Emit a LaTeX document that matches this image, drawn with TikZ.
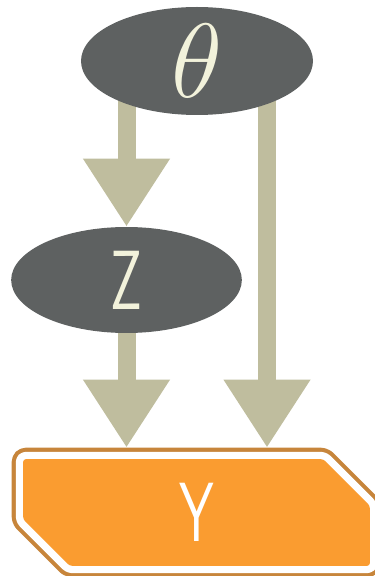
\documentclass[tikz,border=0pt]{standalone}
\usetikzlibrary{shapes.geometric,shapes.misc,arrows.meta,backgrounds}

\newcommand{\narrow}[1]{\scalebox{0.66}[1]{#1}}

\begin{document}
\begin{tikzpicture}[x=0.75pt,y=0.75pt,
    var/.style={ellipse,fill=kGrey,text=kCream,inner sep=0pt,
                minimum width=174pt,minimum height=81pt,
                font=\fontsize{63}{70}\selectfont\sffamily},
    obs/.style={chamfered rectangle,
                chamfered rectangle corners={north east,south west},
                chamfered rectangle sep=24.75pt,
                fill=kOrange,text=white,inner sep=0pt,outer sep=8.6pt,
                minimum width=260pt,minimum height=80pt,rounded corners=2pt,
                preaction={draw=kBrown,line width=17.25pt,line join=round},
                preaction={draw=white,line width=11pt,line join=round},
                font=\fontsize{63}{70}\selectfont\sffamily},
    link/.style={draw=kKhaki,line width=13.5pt,
                 -{Triangle[length=51pt,width=61.5pt]}}]
  \definecolor{kGrey}{rgb}{0.37,0.38,0.38}
  \definecolor{kCream}{rgb}{0.95,0.95,0.86}
  \definecolor{kKhaki}{rgb}{0.75,0.74,0.62}
  \definecolor{kOrange}{rgb}{0.98,0.61,0.19}
  \definecolor{kBrown}{rgb}{0.78,0.52,0.23}

  \useasboundingbox (0,0) rectangle (375,576);

  % variables
  \node[var] (theta) at (197,515) {\scalebox{6.6}{\fontsize{12}{14}\selectfont$\theta$}};
  \node[var,minimum width=173pt,minimum height=79.5pt] (z) at (126.5,296) {\narrow{Z}};
  \node[obs] (y) at (196.5,63.5) {\narrow{Y}};

  % links
  \begin{scope}[on background layer]
    \draw[link] (theta -| z) -- (z);
    \draw[link] (z) -- (z |- y.north);
    \draw[link] ([xshift=52.5pt]theta.center) -- ([xshift=52.5pt]theta.center |- y.north);
  \end{scope}
\end{tikzpicture}
\end{document}
